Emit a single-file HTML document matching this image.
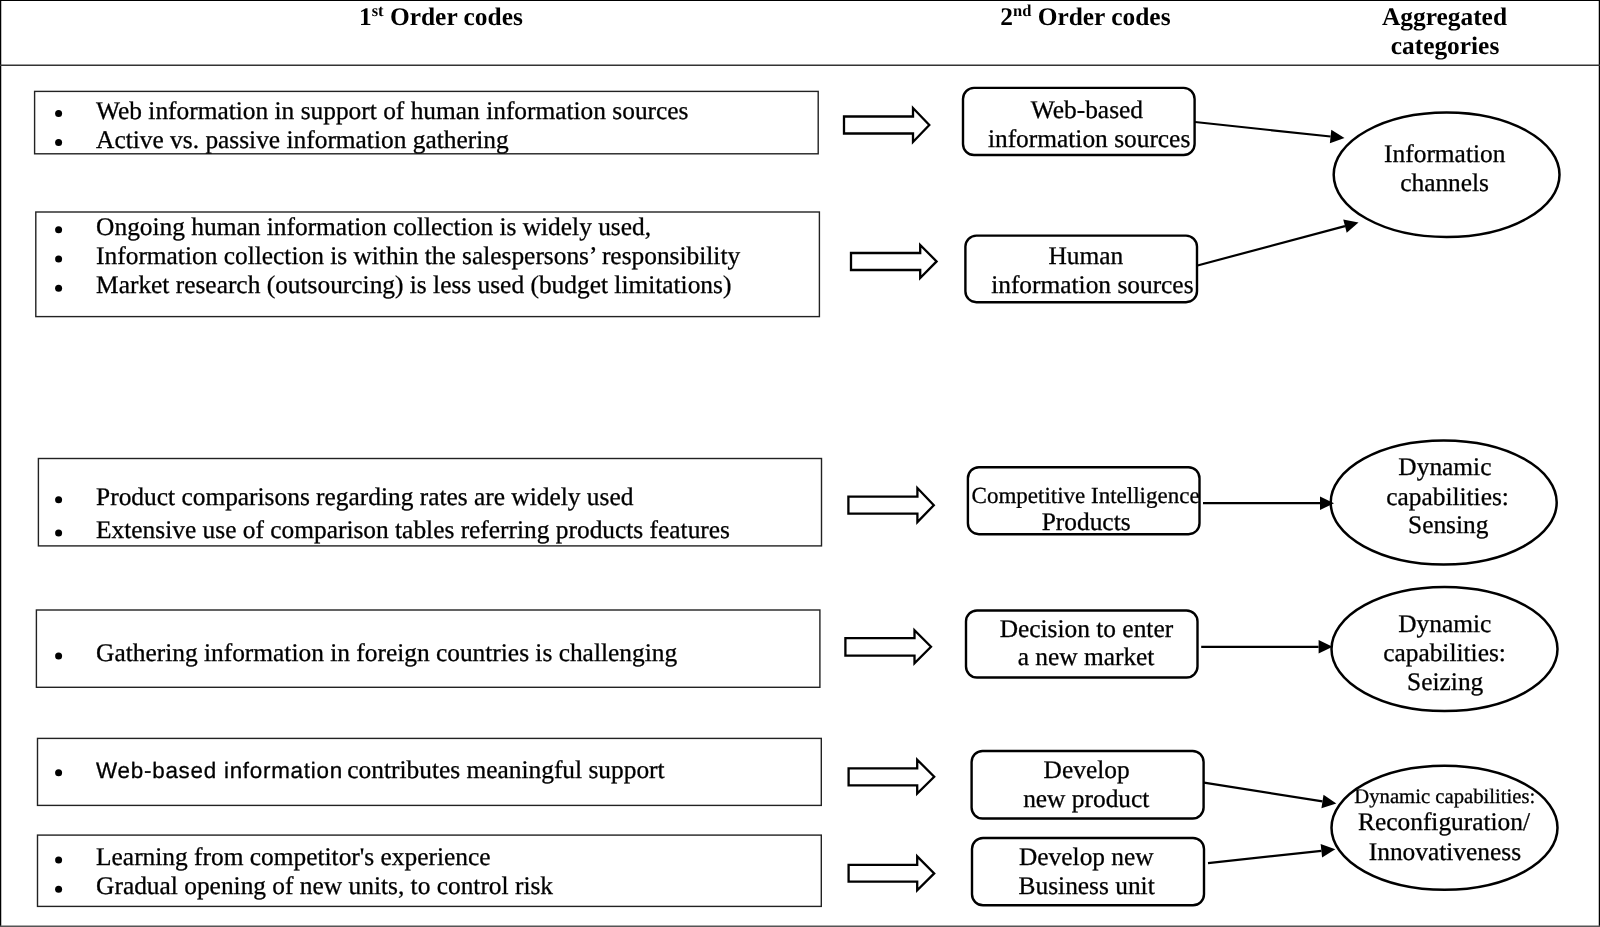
<!DOCTYPE html>
<html><head><meta charset="utf-8"><style>
html,body{margin:0;padding:0;background:#fff;width:1600px;height:927px;overflow:hidden}
svg{display:block;will-change:transform}
text{fill:#000;stroke:#000;stroke-width:0.3px;text-rendering:geometricPrecision} text[font-weight="700"]{stroke-width:0}
</style></head><body>
<svg width="1600" height="927" viewBox="0 0 1600 927">
<line x1="0" y1="0.5" x2="1600" y2="0.5" stroke="#000" stroke-width="1.2"/>
<line x1="0.6" y1="0" x2="0.6" y2="927" stroke="#000" stroke-width="1.3"/>
<line x1="1599.4" y1="0" x2="1599.4" y2="927" stroke="#000" stroke-width="1.3"/>
<line x1="0" y1="926.2" x2="1600" y2="926.2" stroke="#555" stroke-width="1.6"/>
<line x1="0" y1="65.2" x2="1600" y2="65.2" stroke="#333" stroke-width="1.5"/>
<text x="359" y="25.3" font-size="25.4" font-weight="700" font-family='"Liberation Serif", serif'>1<tspan font-size="16.5" dy="-9">st</tspan><tspan dy="9"> Order codes</tspan></text>
<text x="1000.3" y="25.3" font-size="25.4" font-weight="700" font-family='"Liberation Serif", serif'>2<tspan font-size="16.5" dy="-9">nd</tspan><tspan dy="9"> Order codes</tspan></text>
<text x="1444.5" y="24.7" font-size="25.4" font-weight="700" text-anchor="middle" font-family='"Liberation Serif", serif' >Aggregated</text>
<text x="1445" y="53.7" font-size="25.4" font-weight="700" text-anchor="middle" font-family='"Liberation Serif", serif' >categories</text>
<rect x="34.6" y="91.4" width="783.6" height="62.4" fill="none" stroke="#222" stroke-width="1.4"/>
<circle cx="58.6" cy="113.5" r="3.5" fill="#000"/>
<text x="96.1" y="118.5" font-size="25.4" font-weight="400" text-anchor="start" font-family='"Liberation Serif", serif' >Web information in support of human information sources</text>
<circle cx="58.6" cy="142.5" r="3.5" fill="#000"/>
<text x="96.1" y="147.5" font-size="25.4" font-weight="400" text-anchor="start" font-family='"Liberation Serif", serif' >Active vs. passive information gathering</text>
<rect x="35.8" y="212.0" width="783.6" height="104.6" fill="none" stroke="#222" stroke-width="1.4"/>
<circle cx="58.6" cy="229.8" r="3.5" fill="#000"/>
<text x="96.1" y="234.8" font-size="25.4" font-weight="400" text-anchor="start" font-family='"Liberation Serif", serif' >Ongoing human information collection is widely used,</text>
<circle cx="58.6" cy="259.0" r="3.5" fill="#000"/>
<text x="96.1" y="264.0" font-size="25.4" font-weight="400" text-anchor="start" font-family='"Liberation Serif", serif' >Information collection is within the salespersons’ responsibility</text>
<circle cx="58.6" cy="288.3" r="3.5" fill="#000"/>
<text x="96.1" y="293.3" font-size="25.4" font-weight="400" text-anchor="start" font-family='"Liberation Serif", serif' >Market research (outsourcing) is less used (budget limitations)</text>
<rect x="38.4" y="458.5" width="783.1" height="87.4" fill="none" stroke="#222" stroke-width="1.4"/>
<circle cx="58.6" cy="499.8" r="3.5" fill="#000"/>
<text x="96.1" y="504.8" font-size="25.4" font-weight="400" text-anchor="start" font-family='"Liberation Serif", serif' >Product comparisons regarding rates are widely used</text>
<circle cx="58.6" cy="533.1" r="3.5" fill="#000"/>
<text x="96.1" y="538.1" font-size="25.4" font-weight="400" text-anchor="start" font-family='"Liberation Serif", serif' >Extensive use of comparison tables referring products features</text>
<rect x="36.4" y="610.0" width="783.5" height="77.3" fill="none" stroke="#222" stroke-width="1.4"/>
<circle cx="58.6" cy="656.0" r="3.5" fill="#000"/>
<text x="96.1" y="661.0" font-size="25.4" font-weight="400" text-anchor="start" font-family='"Liberation Serif", serif' >Gathering information in foreign countries is challenging</text>
<rect x="37.5" y="738.4" width="783.8" height="67.0" fill="none" stroke="#222" stroke-width="1.4"/>
<circle cx="58.6" cy="772.7" r="3.5" fill="#000"/>
<text x="96.1" y="777.7" font-size="25.4" font-family='"Liberation Serif", serif'><tspan font-family='"Liberation Sans", sans-serif' font-size="22.4" letter-spacing="0.75">Web-based information</tspan><tspan dx="-2"> contributes meaningful support</tspan></text>
<rect x="37.5" y="835.1" width="783.8" height="71.3" fill="none" stroke="#222" stroke-width="1.4"/>
<circle cx="58.6" cy="860.0" r="3.5" fill="#000"/>
<text x="96.1" y="865.0" font-size="25.4" font-weight="400" text-anchor="start" font-family='"Liberation Serif", serif' >Learning from competitor's experience</text>
<circle cx="58.6" cy="889.3" r="3.5" fill="#000"/>
<text x="96.1" y="894.3" font-size="25.4" font-weight="400" text-anchor="start" font-family='"Liberation Serif", serif' >Gradual opening of new units, to control risk</text>
<path d="M844.0 116.5 L913.0 116.5 L913.0 108.0 L929.3 125.0 L913.0 142.0 L913.0 133.5 L844.0 133.5 Z" fill="#fff" stroke="#000" stroke-width="2.3" stroke-linejoin="miter"/>
<path d="M851.0 253.0 L920.2 253.0 L920.2 245.0 L936.6 261.4 L920.2 278.0 L920.2 270.0 L851.0 270.0 Z" fill="#fff" stroke="#000" stroke-width="2.3" stroke-linejoin="miter"/>
<path d="M848.4 496.6 L917.4 496.6 L917.4 488.0 L933.8 505.2 L917.4 522.1 L917.4 513.7 L848.4 513.7 Z" fill="#fff" stroke="#000" stroke-width="2.3" stroke-linejoin="miter"/>
<path d="M845.4 638.2 L914.5 638.2 L914.5 630.2 L931.0 646.8 L914.5 663.2 L914.5 655.7 L845.4 655.7 Z" fill="#fff" stroke="#000" stroke-width="2.3" stroke-linejoin="miter"/>
<path d="M848.6 768.3 L917.2 768.3 L917.2 759.7 L934.2 776.7 L917.2 793.5 L917.2 785.3 L848.6 785.3 Z" fill="#fff" stroke="#000" stroke-width="2.3" stroke-linejoin="miter"/>
<path d="M848.6 864.8 L917.2 864.8 L917.2 856.4 L934.2 873.4 L917.2 890.3 L917.2 881.6 L848.6 881.6 Z" fill="#fff" stroke="#000" stroke-width="2.3" stroke-linejoin="miter"/>
<rect x="963.0" y="87.9" width="231.6" height="67.1" rx="11" ry="11" fill="none" stroke="#000" stroke-width="2.4"/>
<text x="1086.9" y="118.4" font-size="25.4" font-weight="400" text-anchor="middle" font-family='"Liberation Serif", serif' >Web-based</text>
<text x="1089.1" y="147.2" font-size="25.4" font-weight="400" text-anchor="middle" font-family='"Liberation Serif", serif' >information sources</text>
<rect x="965.4" y="235.6" width="231.6" height="66.6" rx="11" ry="11" fill="none" stroke="#000" stroke-width="2.4"/>
<text x="1085.8" y="264.2" font-size="25.4" font-weight="400" text-anchor="middle" font-family='"Liberation Serif", serif' >Human</text>
<text x="1092.35" y="292.6" font-size="25.4" font-weight="400" text-anchor="middle" font-family='"Liberation Serif", serif' >information sources</text>
<rect x="967.9" y="467.2" width="231.6" height="67.0" rx="11" ry="11" fill="none" stroke="#000" stroke-width="2.4"/>
<text x="1085.6" y="502.7" font-size="23.0" font-weight="400" text-anchor="middle" font-family='"Liberation Serif", serif' >Competitive Intelligence</text>
<text x="1086.15" y="529.6" font-size="25.4" font-weight="400" text-anchor="middle" font-family='"Liberation Serif", serif' >Products</text>
<rect x="966.0" y="610.5" width="231.5" height="67.0" rx="11" ry="11" fill="none" stroke="#000" stroke-width="2.4"/>
<text x="1086.4" y="636.8" font-size="25.4" font-weight="400" text-anchor="middle" font-family='"Liberation Serif", serif' >Decision to enter</text>
<text x="1086.05" y="664.8" font-size="25.4" font-weight="400" text-anchor="middle" font-family='"Liberation Serif", serif' >a new market</text>
<rect x="971.6" y="751.0" width="232.0" height="67.5" rx="11" ry="11" fill="none" stroke="#000" stroke-width="2.4"/>
<text x="1086.6" y="778.0" font-size="25.4" font-weight="400" text-anchor="middle" font-family='"Liberation Serif", serif' >Develop</text>
<text x="1086.25" y="806.5" font-size="25.4" font-weight="400" text-anchor="middle" font-family='"Liberation Serif", serif' >new product</text>
<rect x="972.0" y="838.0" width="232.0" height="67.3" rx="11" ry="11" fill="none" stroke="#000" stroke-width="2.4"/>
<text x="1086.35" y="865.0" font-size="25.4" font-weight="400" text-anchor="middle" font-family='"Liberation Serif", serif' >Develop new</text>
<text x="1086.65" y="893.8" font-size="25.4" font-weight="400" text-anchor="middle" font-family='"Liberation Serif", serif' >Business unit</text>
<ellipse cx="1446.6" cy="174.75" rx="112.9" ry="62.25" fill="none" stroke="#000" stroke-width="2.5"/>
<text x="1444.75" y="162.2" font-size="25.4" font-weight="400" text-anchor="middle" font-family='"Liberation Serif", serif' >Information</text>
<text x="1444.6" y="190.7" font-size="25.4" font-weight="400" text-anchor="middle" font-family='"Liberation Serif", serif' >channels</text>
<ellipse cx="1443.7" cy="502.5" rx="113" ry="62" fill="none" stroke="#000" stroke-width="2.5"/>
<text x="1444.9" y="475.35" font-size="25.4" font-weight="400" text-anchor="middle" font-family='"Liberation Serif", serif' >Dynamic</text>
<text x="1447.55" y="504.6" font-size="25.4" font-weight="400" text-anchor="middle" font-family='"Liberation Serif", serif' >capabilities:</text>
<text x="1448.25" y="533.45" font-size="25.4" font-weight="400" text-anchor="middle" font-family='"Liberation Serif", serif' >Sensing</text>
<ellipse cx="1444.5" cy="649.0" rx="113" ry="62" fill="none" stroke="#000" stroke-width="2.5"/>
<text x="1444.75" y="631.8" font-size="25.4" font-weight="400" text-anchor="middle" font-family='"Liberation Serif", serif' >Dynamic</text>
<text x="1444.5" y="660.7" font-size="25.4" font-weight="400" text-anchor="middle" font-family='"Liberation Serif", serif' >capabilities:</text>
<text x="1445.2" y="690.1" font-size="25.4" font-weight="400" text-anchor="middle" font-family='"Liberation Serif", serif' >Seizing</text>
<ellipse cx="1444.5" cy="827.75" rx="113" ry="62" fill="none" stroke="#000" stroke-width="2.5"/>
<text x="1444.8" y="802.55" font-size="20.7" font-weight="400" text-anchor="middle" font-family='"Liberation Serif", serif' >Dynamic capabilities:</text>
<text x="1444.05" y="830.2" font-size="25.4" font-weight="400" text-anchor="middle" font-family='"Liberation Serif", serif' >Reconfiguration/</text>
<text x="1444.9" y="859.6" font-size="25.4" font-weight="400" text-anchor="middle" font-family='"Liberation Serif", serif' >Innovativeness</text>
<line x1="1195.0" y1="122.0" x2="1330.58" y2="136.51" stroke="#000" stroke-width="2.2"/>
<path d="M1344.5 138.0 L1329.86 143.27 L1331.30 129.75 Z" fill="#000"/>
<line x1="1197.5" y1="265.5" x2="1344.97" y2="226.11" stroke="#000" stroke-width="2.2"/>
<path d="M1358.5 222.5 L1346.73 232.68 L1343.22 219.54 Z" fill="#000"/>
<line x1="1203.0" y1="503.2" x2="1320.00" y2="503.20" stroke="#000" stroke-width="2.2"/>
<path d="M1334.0 503.2 L1320.00 510.00 L1320.00 496.40 Z" fill="#000"/>
<line x1="1201.2" y1="646.8" x2="1318.60" y2="646.80" stroke="#000" stroke-width="2.2"/>
<path d="M1332.6 646.8 L1318.60 653.60 L1318.60 640.00 Z" fill="#000"/>
<line x1="1204.0" y1="782.7" x2="1322.47" y2="801.42" stroke="#000" stroke-width="2.2"/>
<path d="M1336.3 803.6 L1321.41 808.13 L1323.53 794.70 Z" fill="#000"/>
<line x1="1208.0" y1="863.1" x2="1321.38" y2="850.81" stroke="#000" stroke-width="2.2"/>
<path d="M1335.3 849.3 L1322.11 857.57 L1320.65 844.05 Z" fill="#000"/>
</svg>
</body></html>
